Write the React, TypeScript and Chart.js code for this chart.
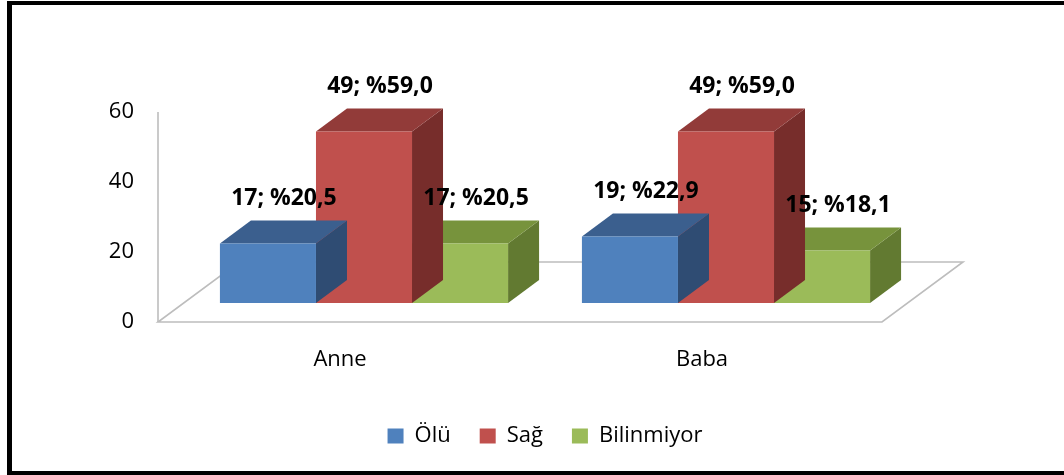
import React, { useEffect, useRef } from "react";
import { Chart, registerables } from "chart.js";

Chart.register(...registerables);

// ---- data ----
const categories = ["Anne", "Baba"];
const seriesNames = ["Ölü", "Sağ", "Bilinmiyor"];
const oluCounts = [17, 19];
const sagCounts = [49, 49];
const bilinmiyorCounts = [17, 15];
const oluPercents = [20.5, 22.9];
const sagPercents = [59.0, 59.0];
const bilinmiyorPercents = [20.5, 18.1];
const yTickValues = [0, 20, 40, 60];

// ---- styles ----
const frontColors = ["#4F81BD", "#C0504D", "#9BBB59"];
const topColors = ["#3B5F8E", "#923B39", "#77933C"];
const sideColors = ["#2F4C73", "#772D2B", "#627A31"];
const FONT = "'Open Sans', 'DejaVu Sans', sans-serif";
const DEPTH_X = 31;
const DEPTH_Y = -23;

const counts = [oluCounts, sagCounts, bilinmiyorCounts];
const percents = [oluPercents, sagPercents, bilinmiyorPercents];

const fmtLabel = (c: number, p: number) =>
  `${c}; %${p.toFixed(1).replace(".", ",")}`;

const frame3DPlugin = {
  id: "frame3d",
  beforeDraw(chart: any) {
    const ctx = chart.ctx;
    ctx.save();
    ctx.fillStyle = "#000";
    ctx.fillRect(7, 1, 5, 474);
    ctx.fillRect(7, 1, 1057, 4);
    ctx.fillRect(7, 471, 1057, 4);
    ctx.restore();
  },
  beforeDatasetsDraw(chart: any) {
    const ctx = chart.ctx;
    const area = chart.chartArea;
    const y = chart.scales.y;
    const y0 = y.getPixelForValue(0);
    const yTop = y.getPixelForValue(y.max);
    const fl = area.left - 25;
    const fr = area.right - 25;
    const fy = y0 + 19;
    const by = y0 - 41;
    const bl = area.left + 56;
    const br = area.right + 56;
    ctx.save();
    ctx.strokeStyle = "#BDBDBD";
    ctx.lineWidth = 1.6;
    ctx.beginPath();
    ctx.moveTo(fl, fy);
    ctx.lineTo(fr, fy);
    ctx.lineTo(br, by);
    ctx.lineTo(bl, by);
    ctx.closePath();
    ctx.stroke();
    ctx.beginPath();
    ctx.moveTo(fl, fy);
    ctx.lineTo(fl, yTop + 19);
    ctx.stroke();
    ctx.restore();
  },
  beforeDatasetDraw(chart: any, args: any) {
    const ctx = chart.ctx;
    const i = args.index;
    ctx.save();
    args.meta.data.forEach((bar: any) => {
      const { x, y, base, width } = bar.getProps(["x", "y", "base", "width"], true);
      const l = x - width / 2;
      const r = x + width / 2;
      // side face
      ctx.fillStyle = sideColors[i];
      ctx.beginPath();
      ctx.moveTo(r, y);
      ctx.lineTo(r + DEPTH_X, y + DEPTH_Y);
      ctx.lineTo(r + DEPTH_X, base + DEPTH_Y);
      ctx.lineTo(r, base);
      ctx.closePath();
      ctx.fill();
      // top face
      ctx.fillStyle = topColors[i];
      ctx.beginPath();
      ctx.moveTo(l, y);
      ctx.lineTo(l + DEPTH_X, y + DEPTH_Y);
      ctx.lineTo(r + DEPTH_X, y + DEPTH_Y);
      ctx.lineTo(r, y);
      ctx.closePath();
      ctx.fill();
    });
    ctx.restore();
  },
  afterDatasetsDraw(chart: any) {
    const ctx = chart.ctx;
    ctx.save();
    ctx.fillStyle = "#000";
    ctx.font = `bold 23px ${FONT}`;
    ctx.textAlign = "center";
    ctx.textBaseline = "middle";
    chart.data.datasets.forEach((ds: any, i: number) => {
      const meta = chart.getDatasetMeta(i);
      meta.data.forEach((bar: any, j: number) => {
        const { x, y } = bar.getProps(["x", "y"], true);
        ctx.fillText(fmtLabel(counts[i][j], percents[i][j]), x + 16, y - 45);
      });
    });
    ctx.restore();
  },
};

export default function App() {
  const ref = useRef<HTMLCanvasElement>(null);
  useEffect(() => {
    if (!ref.current) return;
    const font = { family: FONT, size: 22 };
    const chart = new Chart(ref.current, {
      type: "bar",
      data: {
        labels: categories,
        datasets: seriesNames.map((name, i) => ({
          label: name,
          data: counts[i],
          backgroundColor: frontColors[i],
          borderWidth: 0,
          barPercentage: 1,
          categoryPercentage: 0.796,
        })),
      },
      plugins: [frame3DPlugin],
      options: {
        animation: false,
        responsive: false,
        layout: { padding: { left: 60, right: 157, top: 93, bottom: 18 } },
        scales: {
          x: {
            grid: { display: false },
            border: { display: false },
            ticks: { font, color: "#000", labelOffset: -24, padding: 36 },
            afterFit: (s: any) => {
              s.height = 93;
            },
          },
          y: {
            min: 0,
            max: 60,
            grid: { display: false },
            border: { display: false },
            afterBuildTicks: (s: any) => {
              s.ticks = yTickValues.map((v) => ({ value: v }));
            },
            ticks: { font, color: "#000", labelOffset: 19, padding: 41 },
            afterFit: (s: any) => {
              s.width = 123;
            },
          },
        },
        plugins: {
          legend: {
            position: "bottom",
            fullSize: false,
            labels: { boxWidth: 16, boxHeight: 15, padding: 29, font, color: "#000" },
          },
          tooltip: { enabled: false },
        },
      } as any,
    });
    return () => chart.destroy();
  }, []);
  return (
    <div style={{ position: "absolute", left: 0, top: 0, width: 1064, height: 475, background: "#fff" }}>
      <canvas ref={ref} width={1064} height={475} style={{ display: "block" }} />
    </div>
  );
}
